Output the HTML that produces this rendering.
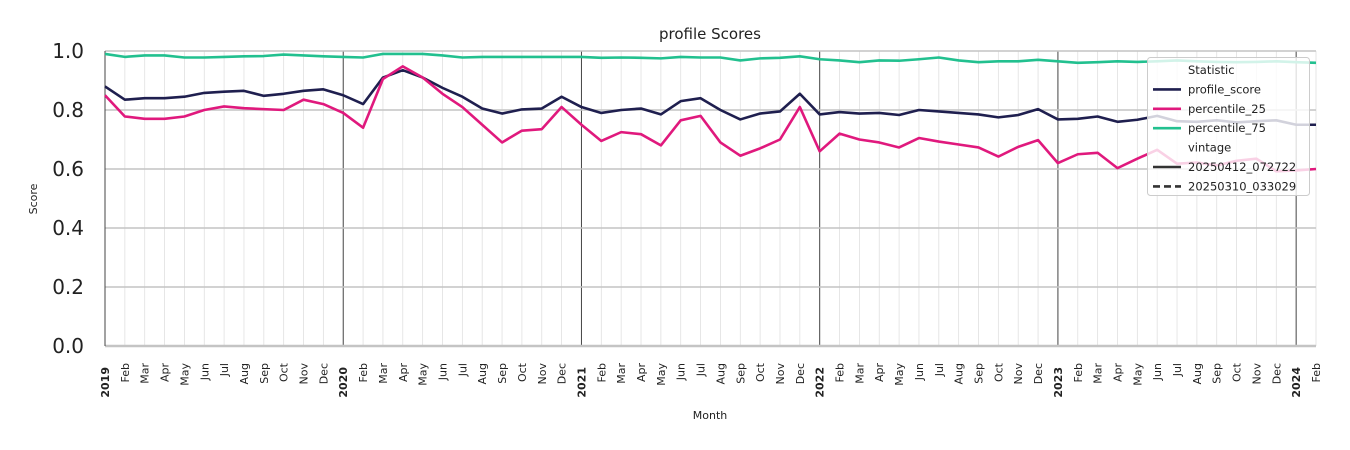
<!DOCTYPE html>
<html><head><meta charset="utf-8"><style>body{margin:0;background:#fff}svg{display:block;font-family:"DejaVu Sans","Liberation Sans",sans-serif}</style></head>
<body>
<svg id="chart" width="1350" height="450" viewBox="0 0 1350 450"></svg>
<script>
const months=["Jan","Feb","Mar","Apr","May","Jun","Jul","Aug","Sep","Oct","Nov","Dec"];
const startYear=2019;
const nMonths=62;
const profileScore=[.88,.835,.84,.84,.845,.858,.862,.865,.848,.855,.865,.87,
.85,.82,.91,.935,.91,.875,.845,.805,.788,.802,.805,.845,
.81,.79,.80,.805,.785,.83,.84,.80,.768,.788,.795,.855,
.785,.793,.788,.79,.783,.80,.795,.79,.785,.775,.783,.803,
.768,.77,.778,.76,.767,.78,.762,.76,.765,.758,.762,.765,.75,.75];
const percentile25=[.85,.778,.77,.77,.778,.80,.812,.806,.803,.80,.835,.82,
.79,.74,.905,.948,.91,.855,.81,.75,.69,.73,.735,.81,
.75,.695,.725,.718,.68,.765,.78,.69,.645,.67,.70,.81,
.66,.72,.70,.69,.673,.705,.693,.683,.673,.642,.675,.698,
.62,.65,.655,.603,.635,.665,.618,.622,.612,.628,.635,.592,.595,.60];
const percentile75=[.99,.98,.985,.985,.978,.978,.98,.982,.983,.988,.985,.982,
.98,.978,.99,.99,.99,.985,.978,.98,.98,.98,.98,.98,
.98,.977,.978,.977,.975,.98,.978,.978,.968,.975,.977,.982,
.972,.968,.962,.968,.967,.972,.978,.968,.962,.965,.965,.97,
.965,.96,.962,.965,.963,.965,.968,.965,.963,.962,.963,.965,.962,.96];
const yTicks=[0,0.2,0.4,0.6,0.8,1.0];
const seriesNames=["profile_score","percentile_25","percentile_75"];
const colors=["#1f1f4f","#e0197d","#22c08f"];

const svg=document.getElementById('chart');
const NS="http://www.w3.org/2000/svg";
const X0=105,X1=1316,Y0=346,Y1=51;
const xs=i=>X0+(X1-X0)*i/(nMonths-1);
const ys=v=>Y0-(Y0-Y1)*v;
function mk(t,a,p){const e=document.createElementNS(NS,t);for(const k in a)e.setAttribute(k,a[k]);(p||svg).appendChild(e);return e;}

const grid=mk('g',{});


for(let i=0;i<nMonths;i++){
  const yr=i%12===0;
  const l=mk('line',{x1:xs(i),x2:xs(i),y1:Y1,y2:Y0,stroke:yr?'#444':'#e0e0e0','stroke-width':yr?1:0.8},grid);
  
  
}
yTicks.forEach(v=>{
  const l=mk('line',{x1:X0,x2:X1,y1:ys(v),y2:ys(v),stroke:'#c4c4c4','stroke-width':v===0?2.5:1.5},grid);
  
  
  const t=mk('text',{x:84,y:ys(v)+7,'text-anchor':'end','font-size':20,fill:'#222'});
  t.textContent=v.toFixed(1);
  
  
});
mk('line',{x1:X0,x2:X0,y1:Y1,y2:Y0,stroke:'#444','stroke-width':1});

for(let i=0;i<nMonths;i++){
  const yr=i%12===0;
  const label=yr?String(startYear+i/12):months[i%12];
  const y=yr?367:363;
  const t=mk('text',{x:0,y:0,transform:`translate(${xs(i)+4},${y}) rotate(-90)`,'text-anchor':'end','font-size':11,'font-weight':yr?'bold':'normal',fill:'#222'});
  t.textContent=label;
  
  
}

[profileScore,percentile25,percentile75].forEach((arr,si)=>{
  const p=mk('polyline',{points:arr.map((v,i)=>xs(i)+','+ys(v)).join(' '),fill:'none',stroke:colors[si],'stroke-width':2.6,'stroke-linejoin':'round'});
  
  
});

let t=mk('text',{x:710,y:39,'text-anchor':'middle','font-size':15,fill:'#222'});t.textContent='profile Scores';

t=mk('text',{x:710,y:419,'text-anchor':'middle','font-size':11,fill:'#222'});t.textContent='Month';

t=mk('text',{x:0,y:0,transform:'translate(37,199) rotate(-90)','text-anchor':'middle','font-size':11,fill:'#222'});t.textContent='Score';


const lg=mk('g',{});


mk('rect',{x:1147.5,y:57.5,width:162,height:138,rx:3,fill:'rgba(255,255,255,0.8)',stroke:'#ccc'},lg);
const items=[["Statistic",null,false],["profile_score",colors[0],false],["percentile_25",colors[1],false],["percentile_75",colors[2],false],["vintage",null,false],["20250412_072722","#333",false],["20250310_033029","#333",true]];
items.forEach((it,k)=>{
  const y=74+k*19.4;
  if(it[1]){
    const l=mk('line',{x1:1153,x2:1181,y1:y-4,y2:y-4,stroke:it[1],'stroke-width':2.6,'stroke-dasharray':it[2]?'7,4':'none'},lg);
    
  }
  const tx=mk('text',{x:it[1]?1188:1188,y:y,'font-size':11.5,fill:'#222'},lg);
  tx.textContent=it[0];
  
});
</script>
</body></html>
